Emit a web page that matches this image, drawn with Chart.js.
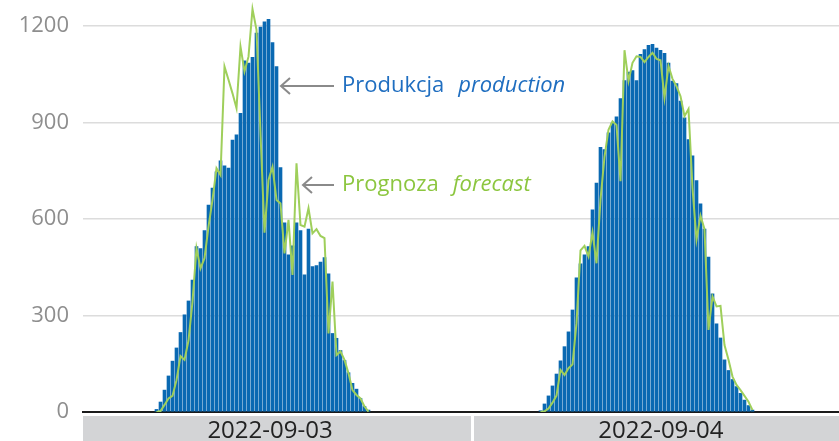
<!DOCTYPE html>
<html>
<head>
<meta charset="utf-8">
<script src="https://cdn.jsdelivr.net/npm/chart.js@4"></script>
<style>
  html, body { margin: 0; padding: 0; background: #fff; }
  #wrap { width: 839px; height: 441px; }
</style>
</head>
<body>
<div id="wrap"><canvas id="chart" width="839" height="441"></canvas></div>
<script>
// 15-minute slots, first value of each day at 04:30
const dayLabels = ['2022-09-03', '2022-09-04'];
const slotsPerDay = 96;
const firstSlot = 18;
const yTicks = [0, 300, 600, 900, 1200];

// Produkcja / production
const prodDay1 = [8, 31, 68, 112, 158, 199, 247, 302, 345, 410,
    514, 508, 564, 643, 696, 746, 780, 765, 758, 845,
    861, 928, 1091, 1084, 1102, 1177, 1196, 1212, 1220, 1148,
    1073, 759, 588, 488, 516, 588, 564, 426, 568, 452,
    455, 466, 480, 429, 244, 229, 191, 160, 122, 89,
    71, 42, 17, 6];
const prodDay2 = [4, 25, 50, 81, 118, 159, 203, 249, 317, 417,
    460, 488, 514, 628, 711, 822, 815, 867, 898, 917,
    974, 1030, 1056, 1061, 1030, 1111, 1126, 1139, 1142, 1131,
    1124, 1114, 1084, 1028, 1020, 966, 914, 846, 796, 719,
    647, 568, 481, 367, 274, 230, 162, 129, 101, 79,
    58, 37, 20, 6];

// Prognoza / forecast
const fcstDay1 = [0, 3, 22, 42, 50, 99, 174, 162, 222, 343,
    509, 446, 478, 576, 659, 757, 736, 1073, 1032, 990,
    944, 1135, 1058, 1104, 1252, 1187, 866, 557, 721, 762,
    659, 648, 493, 597, 426, 773, 581, 576, 633, 555,
    568, 547, 540, 244, 405, 177, 188, 162, 120, 68,
    53, 42, 17, 1];
const fcstDay2 = [0, 2, 11, 29, 51, 131, 115, 136, 148, 276,
    502, 516, 483, 558, 462, 660, 793, 877, 903, 892,
    717, 1124, 1028, 1085, 1105, 1103, 1087, 1103, 1116, 1097,
    1093, 976, 1075, 1035, 1012, 981, 919, 941, 696, 535,
    610, 568, 255, 359, 328, 330, 208, 162, 110, 84,
    68, 50, 32, 6];

const BLUE = '#0a69b2';
const GREEN = '#9fcf5b';

// x range chosen so every slot is 4px wide and bars land on whole pixels
const X_MIN = -0.375;
const X_MAX = 188.625;

function toPoints(days, gap) {
    const pts = [];
    days.forEach((vals, d) => {
        vals.forEach((v, i) => pts.push({ x: d * slotsPerDay + firstSlot + i, y: v }));
        if (gap && d < days.length - 1) pts.push({ x: d * slotsPerDay + firstSlot + vals.length, y: null });
    });
    return pts;
}

// grey date boxes under the axis
const dayBoxes = {
    id: 'dayBoxes',
    beforeDraw(chart) {
        const { ctx, scales: { x }, chartArea } = chart;
        const edges = [[X_MIN, 96.55], [97.45, X_MAX]];
        ctx.save();
        ctx.fillStyle = '#d3d4d6';
        edges.forEach(([a, b]) => {
            const l = Math.round(x.getPixelForValue(a)), r = Math.round(x.getPixelForValue(b));
            ctx.fillRect(l, chartArea.bottom + 4, r - l, chart.height - chartArea.bottom - 4);
        });
        ctx.restore();
    }
};

// arrow labels
const notes = [
    { word: 'Produkcja', en: 'production', color: '#1f6ec0', tip: 281, tail: 334, y: 86, tx: 342 },
    { word: 'Prognoza', en: 'forecast', color: '#8cc63f', tip: 303, tail: 334, y: 185, tx: 342 }
];
const arrowNotes = {
    id: 'arrowNotes',
    afterDraw(chart) {
        const ctx = chart.ctx;
        ctx.save();
        notes.forEach(n => {
            ctx.strokeStyle = '#8a8a8a';
            ctx.lineWidth = 2;
            ctx.beginPath();
            ctx.moveTo(n.tail, n.y);
            ctx.lineTo(n.tip, n.y);
            ctx.moveTo(n.tip + 9, n.y - 8);
            ctx.lineTo(n.tip, n.y);
            ctx.lineTo(n.tip + 9, n.y + 8);
            ctx.stroke();
            ctx.fillStyle = n.color;
            ctx.textBaseline = 'middle';
            ctx.font = '22px "Open Sans"';
            ctx.fillText(n.word, n.tx, n.y);
            const w = ctx.measureText(n.word).width;
            ctx.font = 'italic 22px "Open Sans"';
            ctx.fillText(n.en, n.tx + w + 14, n.y);
        });
        ctx.restore();
    }
};

new Chart(document.getElementById('chart'), {
    data: {
        datasets: [
            {
                type: 'line',
                label: 'Prognoza',
                data: toPoints([fcstDay1, fcstDay2], true),
                borderColor: GREEN,
                borderWidth: 2,
                pointRadius: 0,
                tension: 0,
                order: 1
            },
            {
                type: 'bar',
                label: 'Produkcja',
                data: toPoints([prodDay1, prodDay2], false),
                backgroundColor: BLUE,
                barThickness: 3,
                order: 2
            }
        ]
    },
    options: {
        responsive: false,
        animation: false,
        layout: { padding: 0 },
        plugins: { legend: { display: false }, tooltip: { enabled: false } },
        scales: {
            x: {
                type: 'linear',
                min: X_MIN,
                max: X_MAX,
                offset: false,
                grid: { display: false, drawTicks: false, offset: false },
                border: { display: true, color: '#1b1b1b', width: 2 },
                afterBuildTicks: axis => { axis.ticks = [{ value: 46.375 }, { value: 144.1 }]; },
                afterFit: axis => {
                    axis.height = 29;
                    axis.paddingLeft = 0;
                    axis.paddingRight = 0;
                },
                ticks: {
                    padding: 5,
                    maxRotation: 0,
                    autoSkip: false,
                    color: '#222',
                    font: { family: 'Open Sans', size: 24 },
                    callback: (v, i) => dayLabels[i]
                }
            },
            y: {
                min: 0,
                max: 1280,
                afterBuildTicks: axis => { axis.ticks = yTicks.map(v => ({ value: v })); },
                afterFit: axis => {
                    axis.width = 83;
                    axis.paddingTop = 0;
                    axis.paddingBottom = 0;
                },
                grid: { color: '#dcdcdc', lineWidth: 1.5, drawTicks: false },
                border: { display: false },
                ticks: {
                    padding: 14,
                    color: '#8e8e8e',
                    font: { family: 'Open Sans', size: 22 },
                    callback: v => String(v)
                }
            }
        }
    },
    plugins: [dayBoxes, arrowNotes]
});
</script>
</body>
</html>
